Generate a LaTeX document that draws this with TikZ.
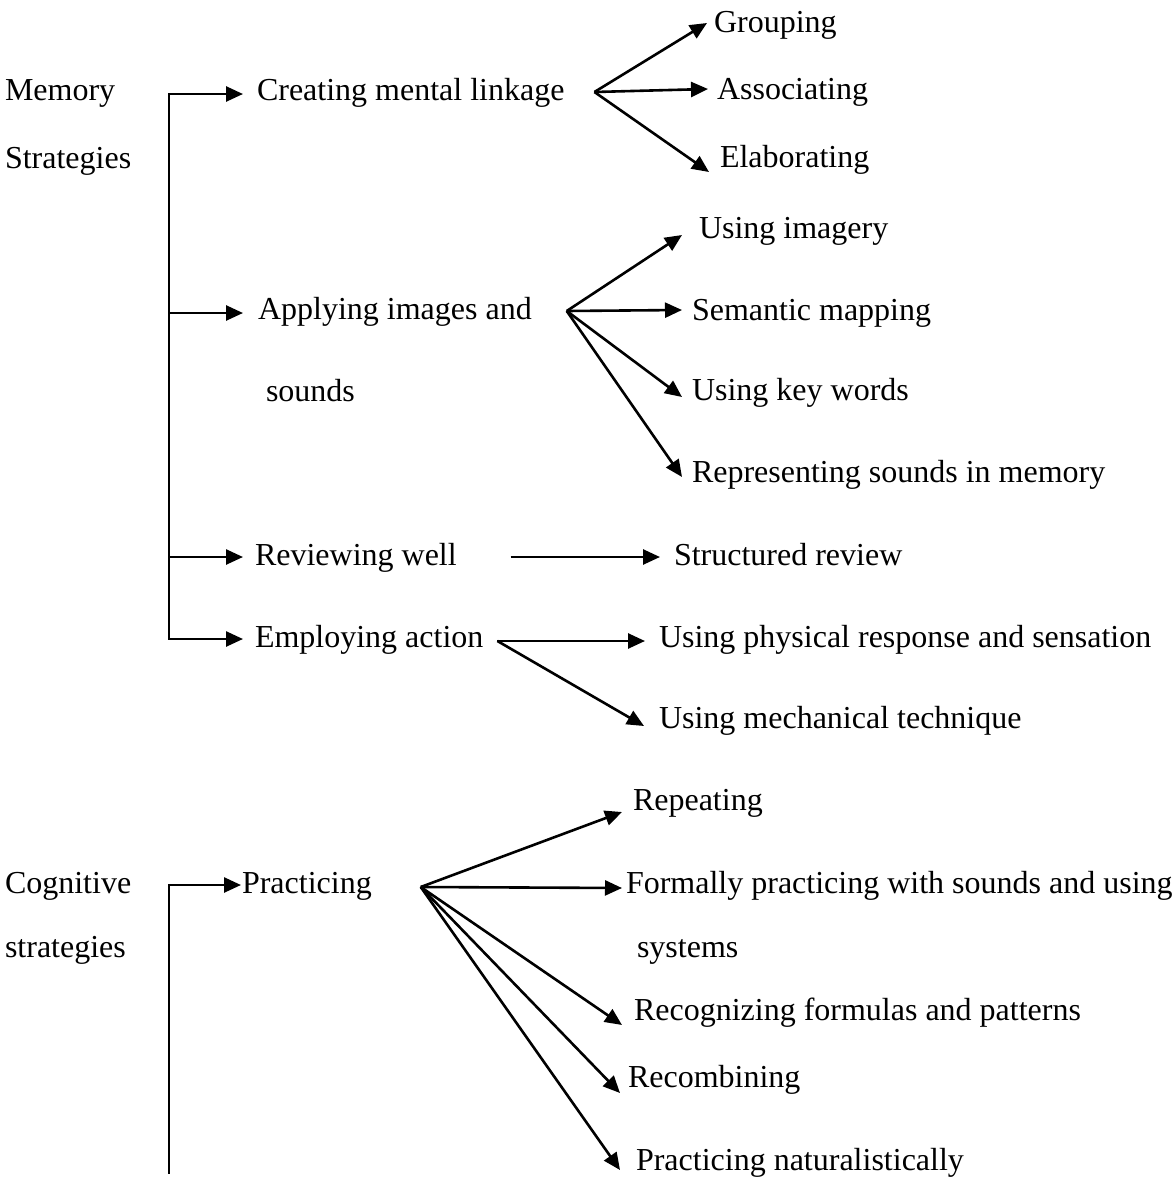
\documentclass[tikz,border=0pt]{standalone}
\usepackage{fontspec}
\setmainfont{Liberation Serif}
\usetikzlibrary{arrows.meta,calc}
\begin{document}
\begin{tikzpicture}[x=0.5pt,y=-0.5pt,
  lbl/.style={anchor=west,inner sep=0pt,outer sep=0pt,text height=1.25em,text depth=0.22em,font=\fontsize{16}{19}\selectfont},
  link/.style={line width=1.3pt,line cap=rect},
  arr/.style={line width=1.3pt,-{Triangle[length=8.5pt,width=7.5pt]}}]
\useasboundingbox (0,0) rectangle (1176,1178);

% ---------- Memory strategies ----------
\node[lbl] (mem)  at (5,90)  {Memory};
\node[lbl] (memb) at (5,158) {Strategies};

\node[lbl] (cml) at (257,90)  {Creating mental linkage};
\node[lbl] (grp) at (714,22)  {Grouping};
\node[lbl] (asc) at (717,89)  {Associating};
\node[lbl] (elb) at (720,157) {Elaborating};

\node[lbl] (aps)  at (258,309) {Applying images and};
\node[lbl] (apsb) at (266,391) {sounds};
\node[lbl] (img) at (699,228) {Using imagery};
\node[lbl] (sem) at (692,310) {Semantic mapping};
\node[lbl] (key) at (692,390) {Using key words};
\node[lbl] (rep) at (692,472) {Representing sounds in memory};

\node[lbl] (rev) at (255,555) {Reviewing well};
\node[lbl] (str) at (674,555) {Structured review};

\node[lbl] (emp) at (255,637) {Employing action};
\node[lbl] (phy) at (659,637) {Using physical response and sensation};
\node[lbl] (mec) at (659,718) {Using mechanical technique};

% bracket
\coordinate (mj1) at (169,94);
\coordinate (mj2) at (169,313);
\coordinate (mj3) at (169,557);
\coordinate (mj4) at (169,639);
\draw[link] (mj1) -- (mj4);
\draw[arr] (mj1) -- ($(mj1 -| cml.west)+(-14,0)$);
\draw[arr] (mj2) -- ($(mj2 -| aps.west)+(-15,0)$);
\draw[arr] (mj3) -- ($(mj3 -| rev.west)+(-12,0)$);
\draw[arr] (mj4) -- ($(mj4 -| emp.west)+(-12,0)$);

% fan: creating mental linkage
\coordinate (f1) at ($(cml.east)+(30,2)$);
\draw[arr] (f1) -- ([shift={(-7,1)}]grp.west);
\draw[arr] (f1) -- ([shift={(-9,0)}]asc.west);
\draw[arr] (f1) -- ([shift={(-11,15)}]elb.west);

% fan: applying images and sounds
\coordinate (f2) at ($(aps.east)+(35,2)$);
\draw[arr] (f2) -- ([shift={(-17,7)}]img.west);
\draw[arr] (f2) -- ([shift={(-10,0)}]sem.west);
\draw[arr] (f2) -- ([shift={(-10,7)}]key.west);
\draw[arr] (f2) -- ([shift={(-10,5)}]rep.west);

% reviewing well
\draw[arr] ([shift={(54,2)}]rev.east) -- ([shift={(-14,2)}]str.west);

% fan: employing action
\coordinate (f3) at ($(emp.east)+(14,4)$);
\draw[arr] (f3) -- ([shift={(-14,4)}]phy.west);
\draw[arr] (f3) -- ([shift={(-15,8)}]mec.west);

% ---------- Cognitive strategies ----------
\node[lbl] (cog)  at (5,883) {Cognitive};
\node[lbl] (cogb) at (5,947) {strategies};

\node[lbl] (prc) at (242,883) {Practicing};
\node[lbl] (rpt) at (633,800) {Repeating};
\node[lbl] (frm) at (626,883) {Formally practicing with sounds and using};
\node[lbl] (frmb) at (637,947) {systems};
\node[lbl] (rcg) at (634,1010) {Recognizing formulas and patterns};
\node[lbl] (rcb) at (628,1077) {Recombining};
\node[lbl] (nat) at (636,1160) {Practicing naturalistically};

\coordinate (cj1) at (169,885);
\coordinate (cjend) at (169,1173);
\draw[link] (cj1) -- (cjend);
\draw[arr] (cj1) -- ($(cj1 -| prc.west)+(-1,0)$);

\coordinate (f4) at ($(prc.east)+(49,4)$);
\draw[arr] (f4) -- ([shift={(-11,12)}]rpt.west);
\draw[arr] (f4) -- ([shift={(-4,5)}]frm.west);
\draw[arr] (f4) -- ([shift={(-12,15)}]rcg.west);
\draw[arr] (f4) -- ([shift={(-8,16)}]rcb.west);
\draw[arr] (f4) -- ([shift={(-16,10)}]nat.west);
\end{tikzpicture}
\end{document}
